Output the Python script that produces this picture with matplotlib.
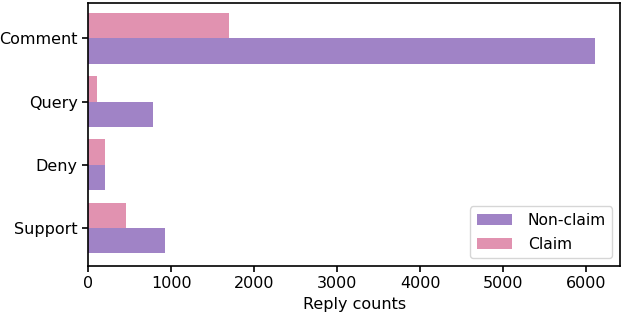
import numpy as np
import matplotlib.pyplot as plt

# categorias y conteos
categories = ['Comment', 'Query', 'Deny', 'Support']
non_claim = [6100, 780, 200, 925]
claim = [1700, 110, 200, 460]

fig, ax = plt.subplots(figsize=(6.22, 3.14), dpi=100)
fig.subplots_adjust(left=0.1415, right=0.997, top=0.991, bottom=0.153)

y = np.arange(len(categories))
h = 0.4
ax.barh(y + h / 2, non_claim, height=h, color='#a083c6', label='Non-claim')
ax.barh(y - h / 2, claim, height=h, color='#e192b0', label='Claim')

ax.set_yticks(y)
ax.set_yticklabels(categories, fontsize=11.5)
ax.set_ylim(3.6, -0.56)
ax.tick_params(axis='x', labelsize=11.5)
ax.tick_params(width=1.2, length=4)
for s in ax.spines.values():
    s.set_linewidth(1.2)
ax.set_xlabel('Reply counts', fontsize=11.5)
ax.legend(loc='lower right', fontsize=11.2, handlelength=2.3, handletextpad=1.0,
          labelspacing=0.6)

plt.savefig('out.png')
